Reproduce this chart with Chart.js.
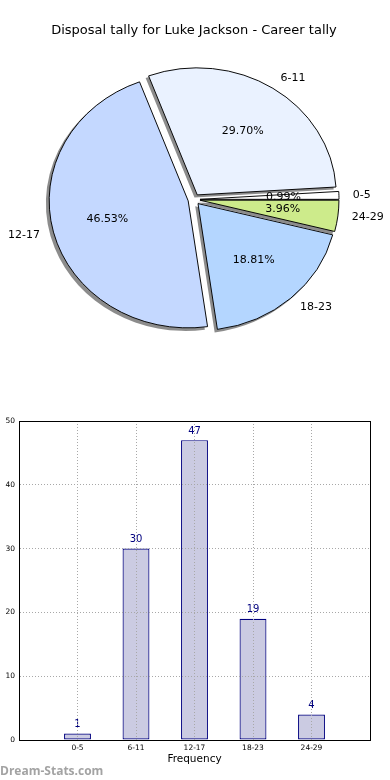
<!DOCTYPE html>
<html>
<head>
<meta charset="utf-8">
<script src="https://cdn.jsdelivr.net/npm/chart.js@4.4.0/dist/chart.umd.min.js"></script>
<style>
body { margin: 0; background: #fff; width: 390px; height: 780px; position: relative; overflow: hidden; }
#pieChart { position: absolute; left: 0; top: 0; }
#barChart { position: absolute; left: 0; top: 400px; }
#credit { position: absolute; left: 0; top: 762px; font: bold 12px "Open Sans"; color: #a3a3a3; }
</style>
</head>
<body>
<canvas id="pieChart" width="390" height="395"></canvas>
<canvas id="barChart" width="390" height="380"></canvas>
<div id="credit">Dream-Stats.com</div>
<script>
var chartTitle = 'Disposal tally for Luke Jackson - Career tally';
var categories = ['0-5', '6-11', '12-17', '18-23', '24-29'];
var tally = [1, 30, 47, 19, 4];
var pieColours = ['#ffffff', '#eaf2ff', '#c4d8ff', '#b4d6ff', '#cdeb8b'];
var yTicks = [0, 10, 20, 30, 40, 50];
var xTitle = 'Frequency';

Chart.defaults.font.family = 'DejaVu Sans';
Chart.defaults.color = '#000';

// pie is squashed vertically and every slice pushed out a bit, like the old matplotlib output
var SQUASH = 0.914;
var EXPLODE = 6;

var total = tally.reduce(function(a, b) { return a + b; }, 0);

var piePlugin = {
    id: 'explodedPie',
    beforeDatasetDraw: function(chart, args) {
        var ctx = chart.ctx;
        var arcs = args.meta.data;
        var cx = arcs[0].x, cy = arcs[0].y;
        ctx.save();
        ctx.translate(cx, cy);
        ctx.scale(1, -SQUASH);
        ctx.translate(-cx, -cy);
        // shadows first
        arcs.forEach(function(arc) {
            var mid = (arc.startAngle + arc.endAngle) / 2;
            var ox = cx + Math.cos(mid) * EXPLODE - 2.8;
            var oy = cy + Math.sin(mid) * EXPLODE - 2.8;
            ctx.beginPath();
            ctx.moveTo(ox, oy);
            ctx.arc(ox, oy, arc.outerRadius + 0.5, arc.startAngle, arc.endAngle);
            ctx.closePath();
            ctx.fillStyle = 'rgba(0,0,0,0.45)';
            ctx.fill();
        });
        arcs.forEach(function(arc) {
            var mid = (arc.startAngle + arc.endAngle) / 2;
            ctx.save();
            ctx.translate(Math.cos(mid) * EXPLODE, Math.sin(mid) * EXPLODE);
            arc.draw(ctx);
            ctx.restore();
        });
        ctx.restore();
        return false;
    },
    afterDatasetsDraw: function(chart) {
        var ctx = chart.ctx;
        var arcs = chart.getDatasetMeta(0).data;
        ctx.save();
        ctx.font = '11px "DejaVu Sans"';
        ctx.fillStyle = '#000';
        ctx.textBaseline = 'middle';
        arcs.forEach(function(arc, i) {
            var mid = (arc.startAngle + arc.endAngle) / 2;
            var R = arc.outerRadius;
            var pos = function(r) {
                return {
                    x: arc.x + (EXPLODE + r) * Math.cos(mid),
                    y: arc.y - SQUASH * (EXPLODE + r) * Math.sin(mid)
                };
            };
            var p = pos(0.6 * R);
            ctx.textAlign = 'center';
            ctx.fillText((tally[i] / total * 100).toFixed(2) + '%', p.x, p.y);
            var l = pos(1.1 * R);
            ctx.textAlign = l.x > arc.x ? 'left' : 'right';
            ctx.fillText(categories[i], l.x, l.y);
        });
        ctx.restore();
    }
};

new Chart(document.getElementById('pieChart'), {
    type: 'pie',
    data: {
        labels: categories,
        datasets: [{
            data: tally,
            backgroundColor: pieColours,
            borderColor: '#000',
            borderWidth: 1,
            radius: 139
        }]
    },
    options: {
        responsive: false,
        animation: false,
        rotation: 90,
        layout: { padding: { top: 0, left: 0, right: 2, bottom: 45.6 } },
        plugins: {
            legend: { display: false },
            tooltip: { enabled: false },
            title: {
                display: true,
                text: chartTitle,
                color: '#000',
                font: { size: 13, weight: 'normal', family: 'DejaVu Sans' },
                padding: { top: 23, bottom: 11 }
            }
        }
    },
    plugins: [piePlugin]
});

//********** BAR CHART ***********/

var barLabels = {
    id: 'barLabels',
    afterDatasetsDraw: function(chart) {
        var ctx = chart.ctx;
        ctx.save();
        ctx.font = '10px "DejaVu Sans"';
        ctx.fillStyle = '#00007f';
        ctx.textAlign = 'center';
        ctx.textBaseline = 'middle';
        chart.getDatasetMeta(0).data.forEach(function(bar, i) {
            ctx.fillText(tally[i], bar.x, bar.y - 9);
        });
        ctx.restore();
    }
};

var frame = {
    id: 'frame',
    afterDraw: function(chart) {
        var a = chart.chartArea;
        var ctx = chart.ctx;
        ctx.save();
        ctx.strokeStyle = '#000';
        ctx.lineWidth = 1;
        ctx.strokeRect(a.left + 0.5, a.top + 0.5, a.right - a.left, a.bottom - a.top);
        ctx.restore();
    }
};

new Chart(document.getElementById('barChart'), {
    type: 'bar',
    data: {
        datasets: [{
            data: categories.map(function(c, i) { return { x: i, y: tally[i] }; }),
            backgroundColor: '#cbcbe2',
            borderColor: '#00007f',
            borderWidth: 1.2,
            borderSkipped: false,
            categoryPercentage: 1,
            barPercentage: 0.46
        }]
    },
    options: {
        responsive: false,
        animation: false,
        layout: { padding: { top: 21, right: 20, left: 0, bottom: 0 } },
        plugins: { legend: { display: false }, tooltip: { enabled: false } },
        scales: {
            x: {
                type: 'linear',
                min: -1,
                max: categories.length,
                offset: false,
                afterFit: function(s) { s.height = 40; },
                ticks: {
                    stepSize: 1,
                    autoSkip: false,
                    maxRotation: 0,
                    padding: 4,
                    font: { size: 7.5 },
                    callback: function(v) { return categories[v] || ''; }
                },
                grid: { color: '#a8a8a8', drawTicks: false, offset: false, z: 1 },
                border: { dash: [1, 2], color: '#000', z: 1 },
                title: {
                    display: true,
                    text: xTitle,
                    font: { size: 10.5 },
                    padding: { top: 0, bottom: 14 }
                }
            },
            y: {
                min: yTicks[0],
                max: yTicks[yTicks.length - 1],
                afterFit: function(s) { s.width = 19; },
                ticks: {
                    stepSize: yTicks[1] - yTicks[0],
                    padding: 4,
                    font: { size: 7.5 }
                },
                grid: { color: '#a8a8a8', drawTicks: false, z: 1 },
                border: { dash: [1, 2], color: '#000', z: 1 }
            }
        }
    },
    plugins: [barLabels, frame]
});
</script>
</body>
</html>
